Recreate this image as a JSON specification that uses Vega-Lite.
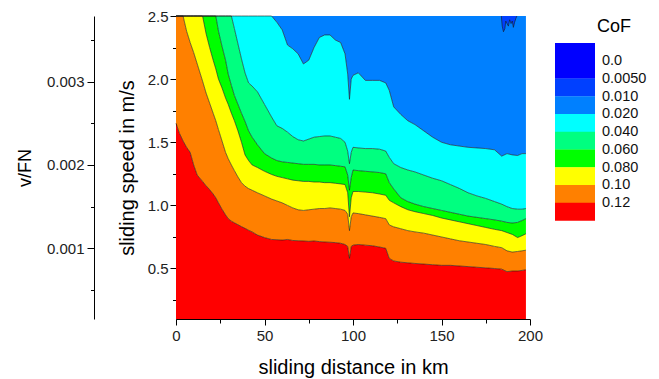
{
  "$schema": "https://vega.github.io/schema/vega-lite/v6.json",
  "autosize": {"type": "none"},
  "width": 354,
  "height": 303,
  "padding": {"left": 176, "top": 16, "right": 129, "bottom": 60},
  "config": {
    "font": "Liberation Sans",
    "view": {"stroke": null},
    "axis": {"grid": false, "domainColor": "#000000", "tickColor": "#000000", "labelColor": "#222222", "titleColor": "#000000", "labelFontSize": 15, "titleFontWeight": "normal", "labelFlush": false, "labelOverlap": false, "zindex": 1},
    "legend": {"orient": "none", "legendX": 421, "legendY": 2, "titleFontSize": 18, "titleFontWeight": "normal", "titleColor": "#000000", "labelFontSize": 14.5, "labelColor": "#111111", "labelBaseline": "middle", "symbolType": "M-5.667,-2H-1.222V0H-5.667Z", "symbolSize": 324, "symbolStrokeWidth": 0, "symbolOpacity": 1, "rowPadding": -7.25, "labelOffset": -13, "titlePadding": 16}
  },
  "datasets": {
    "bounds": [
      {"km": 0, "b1": 1.65, "b2": 2.5, "b3": 2.5, "b4": 2.5, "b5": 2.5, "b6": 2.5},
      {"km": 2, "b1": 1.57, "b2": 2.5, "b3": 2.5, "b4": 2.5, "b5": 2.5, "b6": 2.5},
      {"km": 4, "b1": 1.51, "b2": 2.5, "b3": 2.5, "b4": 2.5, "b5": 2.5, "b6": 2.5},
      {"km": 6, "b1": 1.46, "b2": 2.38, "b3": 2.5, "b4": 2.5, "b5": 2.5, "b6": 2.5},
      {"km": 8, "b1": 1.42, "b2": 2.29, "b3": 2.5, "b4": 2.5, "b5": 2.5, "b6": 2.5},
      {"km": 10, "b1": 1.32, "b2": 2.21, "b3": 2.5, "b4": 2.5, "b5": 2.5, "b6": 2.5},
      {"km": 12, "b1": 1.24, "b2": 2.12, "b3": 2.5, "b4": 2.5, "b5": 2.5, "b6": 2.5},
      {"km": 15, "b1": 1.19, "b2": 1.985, "b3": 2.5, "b4": 2.5, "b5": 2.5, "b6": 2.5},
      {"km": 17, "b1": 1.155, "b2": 1.89, "b3": 2.36, "b4": 2.5, "b5": 2.5, "b6": 2.5},
      {"km": 19, "b1": 1.125, "b2": 1.81, "b3": 2.25, "b4": 2.5, "b5": 2.5, "b6": 2.5},
      {"km": 21, "b1": 1.09, "b2": 1.73, "b3": 2.15, "b4": 2.5, "b5": 2.5, "b6": 2.5},
      {"km": 22.5, "b1": 1.06, "b2": 1.67, "b3": 2.08, "b4": 2.5, "b5": 2.5, "b6": 2.5},
      {"km": 24, "b1": 1.02, "b2": 1.6, "b3": 2.0, "b4": 2.38, "b5": 2.5, "b6": 2.5},
      {"km": 26, "b1": 0.97, "b2": 1.51, "b3": 1.93, "b4": 2.26, "b5": 2.5, "b6": 2.5},
      {"km": 28, "b1": 0.925, "b2": 1.42, "b3": 1.85, "b4": 2.15, "b5": 2.5, "b6": 2.5},
      {"km": 29.5, "b1": 0.895, "b2": 1.37, "b3": 1.8, "b4": 2.04, "b5": 2.5, "b6": 2.5},
      {"km": 31.3, "b1": 0.875, "b2": 1.32, "b3": 1.73, "b4": 1.95, "b5": 2.5, "b6": 2.5},
      {"km": 33, "b1": 0.862, "b2": 1.275, "b3": 1.67, "b4": 1.87, "b5": 2.4, "b6": 2.5},
      {"km": 35, "b1": 0.847, "b2": 1.225, "b3": 1.59, "b4": 1.8, "b5": 2.28, "b6": 2.5},
      {"km": 37, "b1": 0.832, "b2": 1.18, "b3": 1.5, "b4": 1.73, "b5": 2.16, "b6": 2.5},
      {"km": 39, "b1": 0.818, "b2": 1.152, "b3": 1.4, "b4": 1.665, "b5": 2.05, "b6": 2.5},
      {"km": 41, "b1": 0.803, "b2": 1.133, "b3": 1.355, "b4": 1.59, "b5": 1.97, "b6": 2.5},
      {"km": 43, "b1": 0.79, "b2": 1.12, "b3": 1.32, "b4": 1.54, "b5": 1.945, "b6": 2.5},
      {"km": 46, "b1": 0.765, "b2": 1.1, "b3": 1.3, "b4": 1.48, "b5": 1.9, "b6": 2.5},
      {"km": 50, "b1": 0.745, "b2": 1.075, "b3": 1.27, "b4": 1.41, "b5": 1.8, "b6": 2.5},
      {"km": 54, "b1": 0.73, "b2": 1.05, "b3": 1.245, "b4": 1.375, "b5": 1.7, "b6": 2.5},
      {"km": 57, "b1": 0.728, "b2": 1.035, "b3": 1.23, "b4": 1.355, "b5": 1.63, "b6": 2.45},
      {"km": 60, "b1": 0.725, "b2": 1.02, "b3": 1.22, "b4": 1.345, "b5": 1.61, "b6": 2.39},
      {"km": 63, "b1": 0.73, "b2": 1.0, "b3": 1.21, "b4": 1.34, "b5": 1.58, "b6": 2.27},
      {"km": 66, "b1": 0.722, "b2": 0.98, "b3": 1.2, "b4": 1.335, "b5": 1.545, "b6": 2.24},
      {"km": 69, "b1": 0.72, "b2": 0.965, "b3": 1.195, "b4": 1.33, "b5": 1.52, "b6": 2.2},
      {"km": 72, "b1": 0.718, "b2": 0.96, "b3": 1.19, "b4": 1.325, "b5": 1.51, "b6": 2.12},
      {"km": 75, "b1": 0.715, "b2": 0.965, "b3": 1.19, "b4": 1.325, "b5": 1.525, "b6": 2.15},
      {"km": 78, "b1": 0.718, "b2": 0.97, "b3": 1.185, "b4": 1.325, "b5": 1.54, "b6": 2.25},
      {"km": 81, "b1": 0.713, "b2": 0.975, "b3": 1.185, "b4": 1.32, "b5": 1.545, "b6": 2.33},
      {"km": 84, "b1": 0.71, "b2": 0.975, "b3": 1.18, "b4": 1.32, "b5": 1.55, "b6": 2.35},
      {"km": 87, "b1": 0.708, "b2": 0.98, "b3": 1.18, "b4": 1.32, "b5": 1.55, "b6": 2.35},
      {"km": 90, "b1": 0.705, "b2": 0.975, "b3": 1.175, "b4": 1.315, "b5": 1.54, "b6": 2.31},
      {"km": 93, "b1": 0.7, "b2": 0.97, "b3": 1.17, "b4": 1.31, "b5": 1.53, "b6": 2.29},
      {"km": 95.5, "b1": 0.69, "b2": 0.96, "b3": 1.165, "b4": 1.305, "b5": 1.5, "b6": 2.2},
      {"km": 97, "b1": 0.675, "b2": 0.93, "b3": 1.1, "b4": 1.24, "b5": 1.43, "b6": 2.04},
      {"km": 98, "b1": 0.58, "b2": 0.8, "b3": 0.91, "b4": 1.12, "b5": 1.33, "b6": 1.84},
      {"km": 99, "b1": 0.675, "b2": 0.91, "b3": 1.06, "b4": 1.22, "b5": 1.42, "b6": 2.0},
      {"km": 100, "b1": 0.685, "b2": 0.94, "b3": 1.11, "b4": 1.28, "b5": 1.46, "b6": 2.03},
      {"km": 103, "b1": 0.69, "b2": 0.935, "b3": 1.11, "b4": 1.275, "b5": 1.455, "b6": 2.05},
      {"km": 107, "b1": 0.685, "b2": 0.925, "b3": 1.105, "b4": 1.27, "b5": 1.45, "b6": 1.99},
      {"km": 111, "b1": 0.68, "b2": 0.915, "b3": 1.1, "b4": 1.265, "b5": 1.45, "b6": 1.99},
      {"km": 115, "b1": 0.67, "b2": 0.905, "b3": 1.09, "b4": 1.26, "b5": 1.445, "b6": 1.99},
      {"km": 118.5, "b1": 0.66, "b2": 0.895, "b3": 1.08, "b4": 1.25, "b5": 1.43, "b6": 1.97},
      {"km": 120.5, "b1": 0.58, "b2": 0.845, "b3": 1.04, "b4": 1.18, "b5": 1.38, "b6": 1.91},
      {"km": 123, "b1": 0.56, "b2": 0.83, "b3": 1.02, "b4": 1.13, "b5": 1.33, "b6": 1.78},
      {"km": 127, "b1": 0.55, "b2": 0.815, "b3": 0.99, "b4": 1.06, "b5": 1.3, "b6": 1.72},
      {"km": 131, "b1": 0.545, "b2": 0.8, "b3": 0.965, "b4": 1.03, "b5": 1.28, "b6": 1.67},
      {"km": 135, "b1": 0.54, "b2": 0.79, "b3": 0.95, "b4": 1.01, "b5": 1.265, "b6": 1.64},
      {"km": 140, "b1": 0.535, "b2": 0.78, "b3": 0.935, "b4": 0.99, "b5": 1.24, "b6": 1.59},
      {"km": 145, "b1": 0.53, "b2": 0.765, "b3": 0.92, "b4": 0.975, "b5": 1.215, "b6": 1.54},
      {"km": 150, "b1": 0.525, "b2": 0.75, "b3": 0.9, "b4": 0.96, "b5": 1.195, "b6": 1.5},
      {"km": 155, "b1": 0.525, "b2": 0.735, "b3": 0.885, "b4": 0.945, "b5": 1.165, "b6": 1.48},
      {"km": 160, "b1": 0.52, "b2": 0.72, "b3": 0.87, "b4": 0.93, "b5": 1.135, "b6": 1.47},
      {"km": 165, "b1": 0.515, "b2": 0.71, "b3": 0.855, "b4": 0.915, "b5": 1.1, "b6": 1.46},
      {"km": 170, "b1": 0.51, "b2": 0.7, "b3": 0.84, "b4": 0.905, "b5": 1.075, "b6": 1.455},
      {"km": 175, "b1": 0.505, "b2": 0.69, "b3": 0.825, "b4": 0.895, "b5": 1.055, "b6": 1.45},
      {"km": 180, "b1": 0.5, "b2": 0.675, "b3": 0.81, "b4": 0.885, "b5": 1.03, "b6": 1.44},
      {"km": 184, "b1": 0.495, "b2": 0.665, "b3": 0.8, "b4": 0.875, "b5": 1.01, "b6": 1.39},
      {"km": 187, "b1": 0.475, "b2": 0.64, "b3": 0.785, "b4": 0.865, "b5": 0.99, "b6": 1.41},
      {"km": 190, "b1": 0.48, "b2": 0.63, "b3": 0.77, "b4": 0.86, "b5": 0.975, "b6": 1.4},
      {"km": 193, "b1": 0.48, "b2": 0.635, "b3": 0.745, "b4": 0.865, "b5": 0.97, "b6": 1.395},
      {"km": 195.5, "b1": 0.485, "b2": 0.64, "b3": 0.76, "b4": 0.88, "b5": 0.97, "b6": 1.41},
      {"km": 197.7, "b1": 0.49, "b2": 0.645, "b3": 0.775, "b4": 0.895, "b5": 0.975, "b6": 1.41}
    ],
    "islands": [
      {"km": 183.8, "y": 2.5},
      {"km": 184.3, "y": 2.42},
      {"km": 185, "y": 2.375},
      {"km": 185.8, "y": 2.4},
      {"km": 186.3, "y": 2.46},
      {"km": 187, "y": 2.44},
      {"km": 187.8, "y": 2.42},
      {"km": 188.5, "y": 2.47},
      {"km": 189.3, "y": 2.44},
      {"km": 190, "y": 2.46},
      {"km": 190.6, "y": 2.41},
      {"km": 191.3, "y": 2.45},
      {"km": 192, "y": 2.48},
      {"km": 192.6, "y": 2.5}
    ]
  },
  "layer": [
    {
      "data": {"name": "bounds"},
      "layer": [
        {
          "mark": {"type": "area"},
          "encoding": {
            "x": {"field": "km", "type": "quantitative", "scale": {"domain": [0, 200], "nice": false, "zero": false}, "axis": null},
            "y": {"field": "b1", "type": "quantitative", "scale": {"domain": [0.1, 2.5], "nice": false, "zero": false}, "axis": null},
            "y2": {"datum": 0.1},
            "color": {"datum": " ", "type": "nominal",
              "scale": {"domain": ["0.0", "0.0050", "0.010", "0.020", "0.040", "0.060", "0.080", "0.10", "0.12", " "],
                "range": ["#0000FF", "#0000FF", "#0040FF", "#0080FF", "#00FFFF", "#00FF80", "#00FF00", "#FFFF00", "#FF8000", "#FF0000"]},
              "legend": {"title": "CoF"}}
          }
        },
        {
          "mark": {"type": "area"},
          "encoding": {
            "x": {"field": "km", "type": "quantitative", "axis": null},
            "y": {"field": "b2", "type": "quantitative", "axis": null},
            "y2": {"field": "b1"},
            "color": {"datum": "0.12", "type": "nominal"}
          }
        },
        {
          "mark": {"type": "area"},
          "encoding": {
            "x": {"field": "km", "type": "quantitative", "axis": null},
            "y": {"field": "b3", "type": "quantitative", "axis": null},
            "y2": {"field": "b2"},
            "color": {"datum": "0.10", "type": "nominal"}
          }
        },
        {
          "mark": {"type": "area"},
          "encoding": {
            "x": {"field": "km", "type": "quantitative", "axis": null},
            "y": {"field": "b4", "type": "quantitative", "axis": null},
            "y2": {"field": "b3"},
            "color": {"datum": "0.080", "type": "nominal"}
          }
        },
        {
          "mark": {"type": "area"},
          "encoding": {
            "x": {"field": "km", "type": "quantitative", "axis": null},
            "y": {"field": "b5", "type": "quantitative", "axis": null},
            "y2": {"field": "b4"},
            "color": {"datum": "0.060", "type": "nominal"}
          }
        },
        {
          "mark": {"type": "area"},
          "encoding": {
            "x": {"field": "km", "type": "quantitative", "axis": null},
            "y": {"field": "b6", "type": "quantitative", "axis": null},
            "y2": {"field": "b5"},
            "color": {"datum": "0.040", "type": "nominal"}
          }
        },
        {
          "mark": {"type": "area"},
          "encoding": {
            "x": {"field": "km", "type": "quantitative", "axis": null},
            "y": {"field": "b6", "type": "quantitative", "axis": null},
            "y2": {"datum": 2.5},
            "color": {"datum": "0.020", "type": "nominal"}
          }
        },
        {
          "data": {"name": "islands"},
          "mark": {"type": "area"},
          "encoding": {
            "x": {"field": "km", "type": "quantitative", "axis": null},
            "y": {"field": "y", "type": "quantitative", "axis": null},
            "y2": {"datum": 2.5},
            "color": {"datum": "0.010", "type": "nominal"}
          }
        },
        {
          "transform": [{"fold": ["b1", "b2", "b3", "b4", "b5", "b6"], "as": ["boundary", "speed"]}],
          "mark": {"type": "line", "color": "#1a1a1a", "strokeWidth": 0.6},
          "encoding": {
            "x": {"field": "km", "type": "quantitative", "axis": null},
            "y": {"field": "speed", "type": "quantitative", "axis": null},
            "detail": {"field": "boundary", "type": "nominal"}
          }
        },
        {
          "data": {"name": "islands"},
          "mark": {"type": "line", "color": "#1a1a1a", "strokeWidth": 0.6},
          "encoding": {
            "x": {"field": "km", "type": "quantitative", "axis": null},
            "y": {"field": "y", "type": "quantitative", "axis": null}
          }
        }
      ]
    },
    {
      "mark": {"type": "rule", "color": "#a0a0a0", "strokeWidth": 1},
      "encoding": {
        "x": {"datum": 0, "type": "quantitative", "scale": {"domain": [0, 200], "nice": false, "zero": false},
          "axis": {"orient": "bottom", "values": [25, 75, 125, 175], "tickSize": 4, "labels": false, "domain": false, "title": null}},
        "x2": {"datum": 197.7},
        "y": {"datum": 2.5, "type": "quantitative", "scale": {"domain": [0.1, 2.5], "nice": false, "zero": false},
          "axis": {"orient": "left", "values": [0.25, 0.75, 1.25, 1.75, 2.25], "tickSize": 3.5, "labels": false, "domain": false, "title": null}}
      }
    },
    {
      "mark": {"type": "rule", "color": "#a0a0a0", "strokeWidth": 1},
      "encoding": {
        "x": {"datum": 0, "type": "quantitative", "scale": {"domain": [0, 200], "nice": false, "zero": false},
          "axis": {"orient": "bottom", "values": [0, 50, 100, 150, 200], "tickSize": 6, "labelPadding": 3, "title": "sliding distance in km", "titleFontSize": 20, "titlePadding": 14}},
        "x2": {"datum": 197.7},
        "y": {"datum": 2.5, "type": "quantitative", "scale": {"domain": [0.1, 2.5], "nice": false, "zero": false},
          "axis": {"orient": "left", "values": [0.5, 1.0, 1.5, 2.0, 2.5], "format": ".1f", "tickSize": 6, "labelPadding": 2, "title": "sliding speed in m/s", "titleFontSize": 20, "titlePadding": 10}}
      }
    },
    {
      "mark": {"type": "rule", "color": "#a0a0a0", "strokeWidth": 1},
      "encoding": {
        "x": {"datum": 197.7, "type": "quantitative", "scale": {"domain": [0, 200], "nice": false, "zero": false}, "axis": null},
        "y": {"datum": 0.000151515, "type": "quantitative", "scale": {"domain": [0.000151515, 0.003787879], "nice": false, "zero": false},
          "axis": {"orient": "left", "offset": 82, "values": [0.001, 0.002, 0.003], "format": ".3f", "tickSize": 7, "labelPadding": 3, "title": "v/FN", "titleFontSize": 18, "titlePadding": 12}},
        "y2": {"datum": 0.003787879}
      }
    },
    {
      "mark": {"type": "rule", "color": "#a0a0a0", "strokeWidth": 1},
      "encoding": {
        "x": {"datum": 197.7, "type": "quantitative", "scale": {"domain": [0, 200], "nice": false, "zero": false}, "axis": null},
        "y": {"datum": 0.000151515, "type": "quantitative", "scale": {"domain": [0.000151515, 0.003787879], "nice": false, "zero": false},
          "axis": {"orient": "left", "offset": 82, "values": [0.0005, 0.0015, 0.0025, 0.0035], "tickSize": 3.5, "labels": false, "domain": false, "title": null}},
        "y2": {"datum": 0.003787879}
      }
    }
  ],
  "resolve": {"scale": {"x": "independent", "y": "independent"}, "axis": {"x": "independent", "y": "independent"}}
}
